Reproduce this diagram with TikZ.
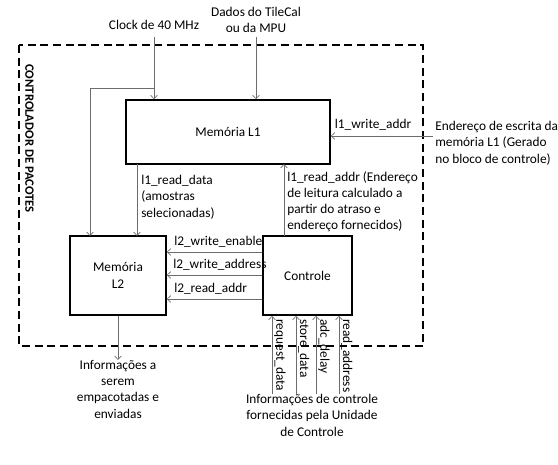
\documentclass[tikz,border=0pt]{standalone}
\usepackage{fontspec}
\setmainfont{Carlito}
\usetikzlibrary{arrows.meta}
\begin{document}
\begin{tikzpicture}[x=0.75pt,y=-0.75pt,
  font=\fontsize{10}{12.2}\selectfont,
  block/.style={draw=black,line width=1.1pt,fill=white,inner sep=0pt},
  conn/.style={draw=gray!85!black,line width=0.5pt,-{Straight Barb[length=2.6pt,width=5pt]}},
  lbl/.style={inner sep=0pt,align=left},
  vlbl/.style={inner sep=0pt,rotate=-90,anchor=south west}]
\useasboundingbox (0,0) rectangle (558,465);

% outer boundary of the packet controller
\draw[black,line width=1.2pt,dash pattern=on 6pt off 3.5pt] (19,45) rectangle (423,346);
\node[vlbl,font=\fontsize{9.5}{12}\selectfont\bfseries] (title) at (25,64) {CONTROLADOR DE PACOTES};

% blocks
\node[block,minimum width=204*0.75pt,minimum height=64*0.75pt] (L1) at (228,132) {Memória L1};
\node[block,minimum width=96*0.75pt,minimum height=79*0.75pt,align=center] (L2) at (118,275.5) {Memória\\L2};
\node[block,minimum width=89*0.75pt,minimum height=79*0.75pt] (ctl) at (307.5,275.5) {Controle};

% external inputs at the top
\node[inner sep=0pt] (clk) at (154,25) {Clock de 40 MHz};
\node[inner sep=0pt,align=center] (dados) at (256,20) {Dados do TileCal\\ou da MPU};
\coordinate (clkt) at (154,37);
\coordinate (clkb) at (154,88);
\coordinate (dt) at (256,37);
\draw[conn] (clkt) -- (clkt |- L1.north);
\draw[conn] (clkb) -- (90,88) -- (90,236);
\draw[conn] (dt) -- (dt |- L1.north);

% L1 write address
\node[lbl,anchor=north west] (wext) at (435,121) {Endereço de escrita da\\memória L1 (Gerado\\no bloco de controle)};
\coordinate (wsrc) at (433,136);
\draw[conn] (wsrc) -- (wsrc -| L1.east);
\node[inner sep=0pt,anchor=south] (wlab) at (373,131) {l1\_write\_addr};

% L1 -> L2 data
\coordinate (rdtop) at (137,164);
\draw[conn] (rdtop) -- (137,236);
\node[lbl,anchor=north west] (rdlab) at (141,175) {l1\_read\_data\\(amostras\\selecionadas)};

% Controle -> L1 read address
\coordinate (ratop) at (284,236);
\draw[conn] (ratop) -- (284,164);
\node[lbl,anchor=north west] (ralab) at (287,171) {l1\_read\_addr (Endereço\\de leitura calculado a\\partir do atraso e\\endereço fornecidos)};

% Controle -> L2 signals
\draw[conn] (ctl.west |- 0,252) -- (L2.east |- 0,252);
\draw[conn] (ctl.west |- 0,275) -- (L2.east |- 0,275);
\draw[conn] (ctl.west |- 0,299) -- (L2.east |- 0,299);
\node[inner sep=0pt,anchor=south west] (s1) at (174,248) {l2\_write\_enable};
\node[inner sep=0pt,anchor=south west] (s2) at (173,271) {l2\_write\_address};
\node[inner sep=0pt,anchor=south west] (s3) at (174,295) {l2\_read\_addr};

% L2 output
\node[inner sep=0pt,align=center,anchor=north] (out) at (118,360) {Informações a\\serem\\empacotadas e\\enviadas};
\draw[conn] (L2.south -| out) -- (out.north);

% control inputs from the control unit
\node[inner sep=0pt,align=center,anchor=north] (cu) at (312,394) {Informações de controle\\fornecidas pela Unidade\\de Controle};
\foreach \x/\t/\n in {272/request\_data/a,296/store\_data/b,316/adc\_delay/c,339/read\_address/d}{
  \coordinate (in\n) at (\x,394);
  \draw[conn] (in\n) -- (in\n |- ctl.south);
  \node[vlbl] (t\n) at (\x+2,319) {\t};
}
\end{tikzpicture}
\end{document}
